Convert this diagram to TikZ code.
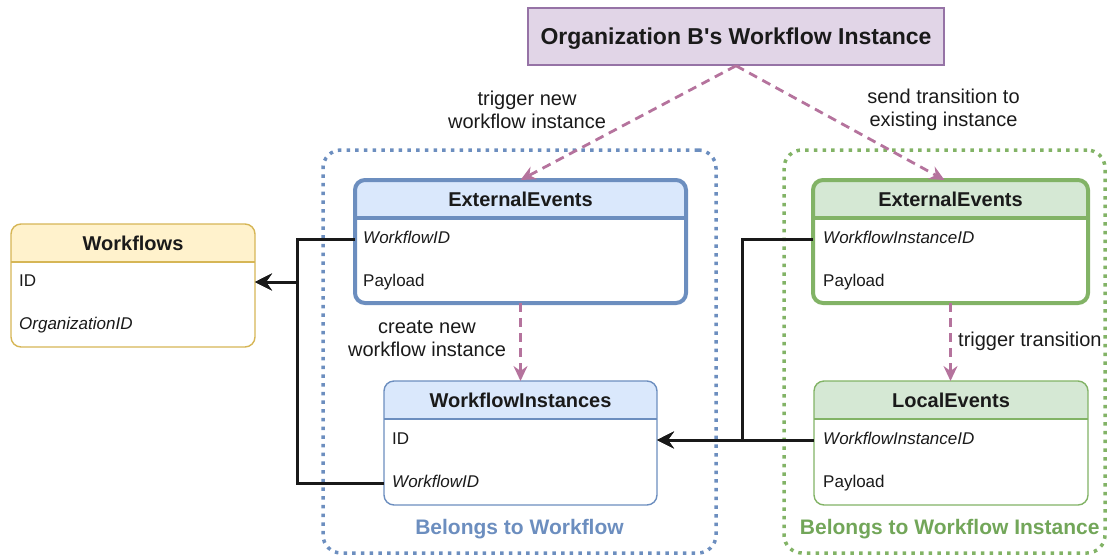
\documentclass[tikz,border=0pt]{standalone}
\usepackage{fontspec}
\setmainfont{Liberation Sans}[Ligatures=TeXOff]
\usepackage{tikz}
\usetikzlibrary{positioning,arrows.meta}

\definecolor{orgfill}{HTML}{E1D5E7}
\definecolor{orgline}{HTML}{9673A6}
\definecolor{wffill}{HTML}{FFF2CC}
\definecolor{wfline}{HTML}{D6B656}
\definecolor{bluefill}{HTML}{DAE8FC}
\definecolor{blueline}{HTML}{6C8EBF}
\definecolor{greenfill}{HTML}{D5E8D4}
\definecolor{greenline}{HTML}{82B366}
\definecolor{greentext}{HTML}{72A659}
\definecolor{flowpink}{HTML}{B5739D}
\definecolor{ink}{HTML}{1A1A1A}

\newcommand{\fieldfont}{\fontsize{17}{20}\selectfont}
\newcommand{\headfont}{\fontsize{20}{24}\selectfont\bfseries}
\newcommand{\labelfont}{\fontsize{20}{22.5}\selectfont}

\tikzset{
	x=1pt, y=-1pt, % one unit is one pixel of the sketch, y runs down
	>={Stealth[length=17pt, width=17pt, inset=6pt]}, % heads of the key arrows
	every node/.style={text=ink}, % dark grey text everywhere
}

\begin{document}
\begin{tikzpicture}[
	entity/.style n args={3}{draw=#1, fill=white, line width=#3, rounded corners=10pt, inner sep=0pt, outer sep=0pt,
		path picture={
			\fill[#2, sharp corners] (path picture bounding box.north west) rectangle ([yshift=-38pt]path picture bounding box.north east);
			\draw[#1, line width=#3, sharp corners] ([yshift=-38pt]path picture bounding box.north west) -- ([yshift=-38pt]path picture bounding box.north east);
		}},
	head/.style={font=\headfont, inner sep=0pt, text height=14.5pt, text depth=0pt},
	field/.style={font=\fieldfont, anchor=west, inner sep=0pt, text height=12pt, text depth=4pt},
	group/.style={draw=#1, line width=3.5pt, dash pattern=on 3.5pt off 5.2pt, rounded corners=18pt, inner sep=0pt},
	grouplabel/.style={font=\fontsize{21}{25}\selectfont\bfseries, text=#1, anchor=base, inner sep=0pt},
	flowlabel/.style={font=\labelfont, align=center, inner sep=0pt},
	flow/.style={draw=flowpink, line width=2.8pt, dash pattern=on 9pt off 6pt, -{Stealth[length=15pt, width=14pt, inset=5pt]}},
	fkey/.style={draw=black!90, line width=3pt, ->},
	]
	\useasboundingbox (0,0) rectangle (1107,555);

	%Groups
	\node[group=blueline, minimum width=393pt, minimum height=403pt] (grpWF) at (519.5,351.5) {};
	\node[group=greenline, minimum width=321pt, minimum height=403pt] (grpWI) at (944.5,351.5) {};
	\node[grouplabel=blueline] (grpWFtxt) at (519.5,534) {Belongs to Workflow};
	\node[grouplabel=greentext] (grpWItxt) at (949.7,534) {Belongs to Workflow Instance};

	%Nodes
	\node[draw=orgline, fill=orgfill, line width=1.5pt, minimum width=416pt, minimum height=57pt,
		font=\fontsize{23}{27}\selectfont\bfseries, text height=16.5pt, text depth=0pt] (org) at (736,36.5) {Organization B's Workflow Instance};

	\node[entity={wfline}{wffill}{1.4pt}, minimum width=244pt, minimum height=123pt] (wf) at (133,285.5) {};
	\node[head] (wfhead) at ([yshift=-19pt]wf.north) {Workflows};
	\node[field] (wfid) at (19,282) {ID};
	\node[field] (wforg) at (19,325) {\textit{OrganizationID}};

	\node[entity={blueline}{bluefill}{4pt}, minimum width=331pt, minimum height=123pt] (eeA) at (520.5,241.5) {};
	\node[head] (eeAhead) at ([yshift=-19pt]eeA.north) {ExternalEvents};
	\node[field] (eeAwid) at (363,239) {\textit{WorkflowID}};
	\node[field] (eeApay) at (363,282) {Payload};

	\node[entity={blueline}{bluefill}{1.4pt}, minimum width=273pt, minimum height=124pt] (wi) at (520.5,443) {};
	\node[head] (wihead) at ([yshift=-19pt]wi.north) {WorkflowInstances};
	\node[field] (wiid) at (392,440) {ID};
	\node[field] (wiwid) at (392,483) {\textit{WorkflowID}};

	\node[entity={greenline}{greenfill}{4pt}, minimum width=275pt, minimum height=123pt] (eeB) at (950.5,241.5) {};
	\node[head] (eeBhead) at ([yshift=-19pt]eeB.north) {ExternalEvents};
	\node[field] (eeBwid) at (823,239) {\textit{WorkflowInstanceID}};
	\node[field] (eeBpay) at (823,282) {Payload};

	\node[entity={greenline}{greenfill}{1.4pt}, minimum width=274pt, minimum height=124pt] (le) at (951,443) {};
	\node[head] (lehead) at ([yshift=-19pt]le.north) {LocalEvents};
	\node[field] (lewid) at (823,440) {\textit{WorkflowInstanceID}};
	\node[field] (lepay) at (823,483) {Payload};

	%Labels
	\node[flowlabel] (lblnew) at (527,110) {trigger new\\workflow instance};
	\node[flowlabel] (lblsend) at (943.5,110) {send transition to\\existing instance};
	\node[flowlabel] (lblcreate) at (427,338.5) {create new\\workflow instance};
	\node[flowlabel, anchor=base west] (lbltrig) at (958,346.7) {trigger transition};

	\coordinate (jL) at (297,282);
	\coordinate (jR) at (742,440);

	%Lines
	\draw[flow] (org.south) -- (eeA.north);
	\draw[flow] (org.south) -- ([xshift=-6pt]eeB.north);
	\draw[flow] (eeA.south) -- (wi.north);
	\draw[flow] (eeB.south) -- (eeB.south |- le.north);

	\draw[fkey] (eeA.west |- eeAwid) -| (jL) -- (wf.east |- wfid);
	\draw[fkey] (wi.west |- wiwid) -| (jL) -- (wf.east |- wfid);
	\draw[fkey] (eeB.west |- eeBwid) -| (jR) -- (wi.east |- wiid);
	\draw[fkey] (le.west |- lewid) -- (wi.east |- wiid);
\end{tikzpicture}
\end{document}
